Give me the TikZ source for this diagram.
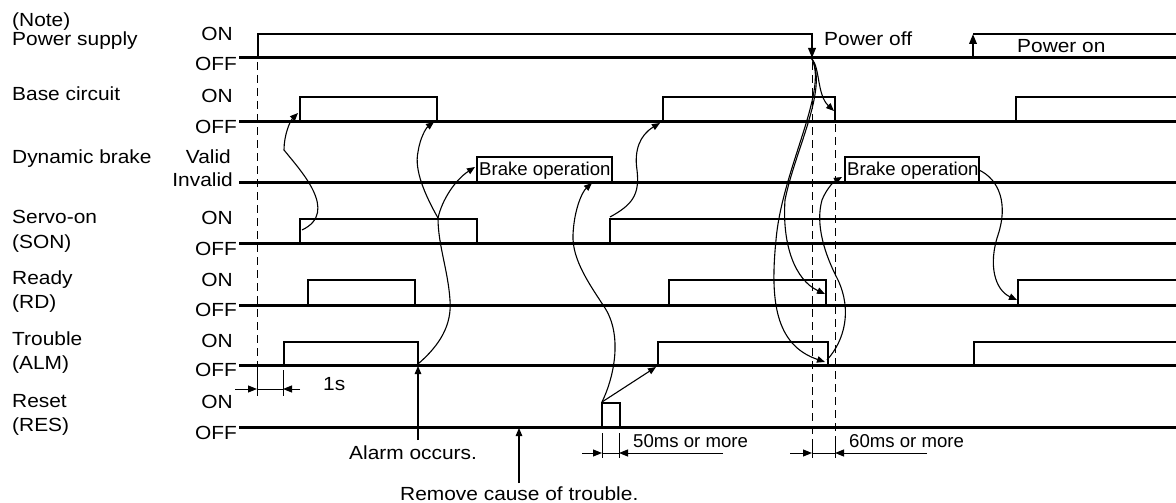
\documentclass[tikz,border=0pt]{standalone}
\usepackage{fontspec}
\setmainfont{Liberation Sans}[FakeStretch=1.1]
\newfontfamily\narrowfam{Liberation Sans}
\usetikzlibrary{arrows.meta}
\newcommand{\mainsz}{\fontsize{19}{22}\selectfont}
\newcommand{\smallsz}{\narrowfam\fontsize{18.6}{22}\selectfont}
\tikzset{
  baseline line/.style={line width=3pt},
  sig/.style={line width=2pt, line join=miter, line cap=butt},
  boxline/.style={line width=1.6pt, line join=miter},
  curv/.style={line width=1.1pt, -{Triangle[length=8pt,width=6.5pt]}},
  straightarr/.style={line width=1.1pt, -{Triangle[length=8pt,width=6.5pt]}},
  edgearr/.style={line width=2pt, -{Triangle[length=10pt,width=7.5pt]}},
  dsh/.style={line width=1pt, dash pattern=on 8pt off 5pt},
  dimline/.style={line width=1pt},
  dimarr/.style={line width=1pt, -{Triangle[length=9pt,width=7pt]}},
  lbl/.style={anchor=base west, inner sep=0pt, font=\mainsz},
  lvl/.style={anchor=base east, inner sep=0pt, font=\mainsz},
  txt/.style={anchor=base west, inner sep=0pt, font=\mainsz},
  smalltxt/.style={anchor=base west, inner sep=0pt, font=\smallsz},
}
\begin{document}
\begin{tikzpicture}[x=1pt,y=-1pt]
\useasboundingbox (0,0) rectangle (1176,503);

% ---------- left labels ----------
\node[lbl] (note) at (12,27) {(Note)};
\node[lbl] (lps) at (12,45.5) {Power supply};
\node[lbl] (lbc) at (12,100) {Base circuit};
\node[lbl] (ldb) at (12,163) {Dynamic brake};
\node[lbl] (lson1) at (12,223) {Servo-on};
\node[lbl] (lson2) at (12,248) {(SON)};
\node[lbl] (lrd1) at (12,284) {Ready};
\node[lbl] (lrd2) at (12,308) {(RD)};
\node[lbl] (lalm1) at (12,345) {Trouble};
\node[lbl] (lalm2) at (12,369) {(ALM)};
\node[lbl] (lres1) at (12,407) {Reset};
\node[lbl] (lres2) at (12,431) {(RES)};

% ---------- level labels ----------
\node[lvl] (on1) at (233,40.5) {ON};
\node[lvl] (off1) at (237,70.5) {OFF};
\node[lvl] (on2) at (233,102.7) {ON};
\node[lvl] (off2) at (237,133) {OFF};
\node[lvl] (valid) at (231,163) {Valid};
\node[lvl] (invalid) at (233,186) {Invalid};
\node[lvl] (on4) at (233,224) {ON};
\node[lvl] (off4) at (237,255) {OFF};
\node[lvl] (on5) at (233,286) {ON};
\node[lvl] (off5) at (237,316) {OFF};
\node[lvl] (on6) at (233,347) {ON};
\node[lvl] (off6) at (237,376) {OFF};
\node[lvl] (on7) at (233,408) {ON};
\node[lvl] (off7) at (237,439) {OFF};

% ---------- base lines ----------
\foreach \yy in {58,121,182,243,305,365,427}
  \draw[baseline line] (239,\yy) -- (1176,\yy);

% ---------- dashed guides ----------
\draw[dsh] (257,62) -- (257,365);
\draw[dsh] (812,62) -- (812,443);
\draw[dsh] (835,124) -- (835,443);

% ---------- power supply ----------
\draw[sig] (258,58) -- (258,34) -- (812,34);
\draw[edgearr] (812,33) -- (812,58);
\draw[edgearr] (973,58) -- (973,34);
\draw[sig] (973,34) -- (1176,34);
\node[txt] (poff) at (824,45.7) {Power off};
\node[txt] (pon) at (1017,52.7) {Power on};

% ---------- base circuit ----------
\draw[sig] (300,121) -- (300,97) -- (437,97) -- (437,121);
\draw[sig] (663,121) -- (663,97) -- (835,97) -- (835,121);
\draw[sig] (1016,121) -- (1016,97) -- (1176,97);

% ---------- dynamic brake ----------
\draw[boxline] (477,182) -- (477,157) -- (612,157) -- (612,182);
\node[smalltxt] (brk1) at (479,175) {Brake operation};
\draw[boxline] (845,182) -- (845,157) -- (979,157) -- (979,182);
\node[smalltxt] (brk2) at (847,175) {Brake operation};

% ---------- servo-on ----------
\draw[sig] (300,243) -- (300,219) -- (477,219) -- (477,243);
\draw[sig] (610,243) -- (610,219) -- (1176,219);

% ---------- ready ----------
\draw[sig] (308,305) -- (308,280) -- (415,280) -- (415,305);
\draw[sig] (669,305) -- (669,280) -- (826,280) -- (826,305);
\draw[sig] (1018,305) -- (1018,280) -- (1176,280);

% ---------- trouble ----------
\draw[sig] (284,365) -- (284,342) -- (418,342) -- (418,365);
\draw[sig] (658,365) -- (658,342) -- (828,342) -- (828,365);
\draw[sig] (974,365) -- (974,342) -- (1176,342);

% ---------- reset ----------
\draw[sig] (602,427) -- (602,403) -- (620,403) -- (620,427);

% ---------- key points ----------
\coordinate (son1) at (302,230);
\coordinate (bc1) at (298,113);
\coordinate (alm1) at (418,364);
\coordinate (jn) at (438,218);
\coordinate (bc2) at (434,122);
\coordinate (db1) at (475,167);
\coordinate (res) at (602,402);
\coordinate (db1e) at (592,183);
\coordinate (alm2) at (656,367);
\coordinate (son2) at (610,217);
\coordinate (bc3) at (660,123);
\coordinate (pof) at (812,59);
\coordinate (bc4) at (834,111);
\coordinate (rd2) at (825,294);
\coordinate (alm3) at (825,362);
\coordinate (alm3s) at (827,360);
\coordinate (db2) at (842,177);
\coordinate (db2e) at (979,170);
\coordinate (rd3) at (1017,300);

% ---------- causal curves ----------
\draw[curv] (son1) .. controls (340,212) and (300,170) .. (284,150)
   .. controls (284,135) and (290,121) .. (bc1);
\draw[curv] (alm1) .. controls (440,345) and (452,325) .. (450,300)
   .. controls (448,270) and (438,245) .. (jn)
   .. controls (425,195) and (414,170) .. (418,152)
   .. controls (420,138) and (426,128) .. (bc2);
\draw[curv] (jn) .. controls (442,200) and (455,180) .. (db1);
\draw[curv] (res) .. controls (615,375) and (622,335) .. (605,308)
   .. controls (590,285) and (572,260) .. (573,235)
   .. controls (574,210) and (582,192) .. (db1e);
\draw[straightarr] (res) -- (alm2);
\draw[curv] (son2) .. controls (632,205) and (640,195) .. (637,170)
   .. controls (634,150) and (640,135) .. (bc3);
\draw[curv] (pof) .. controls (820,68) and (817,95) .. (bc4);
\draw[curv] (pof) .. controls (828,90) and (795,150) .. (785,200)
   .. controls (782,245) and (795,280) .. (rd2);
\draw[curv] (pof) .. controls (828,92) and (782,170) .. (776,240)
   .. controls (770,300) and (775,345) .. (alm3);
\draw[curv] (alm3s) .. controls (845,340) and (852,310) .. (838,280)
   .. controls (825,255) and (815,225) .. (822,200)
   .. controls (826,190) and (833,182) .. (db2);
\draw[curv] (db2e) .. controls (1000,180) and (1008,205) .. (998,235)
   .. controls (988,265) and (995,290) .. (rd3);

% ---------- 1s dimension ----------
\draw[dimline] (257,365) -- (257,396);
\draw[dimline] (283,370) -- (283,396);
\coordinate (d1a) at (235,389);
\coordinate (d1b) at (257,389);
\coordinate (d1c) at (300,389);
\coordinate (d1d) at (283,389);
\draw[dimarr] (d1a) -- (d1b);
\draw[dimline] (d1b) -- (d1d);
\draw[dimarr] (d1c) -- (d1d);
\node[txt] (onesec) at (323,390) {1s};

% ---------- 50ms dimension ----------
\draw[dimline] (602,433) -- (602,458);
\draw[dimline] (619,433) -- (619,458);
\coordinate (d5a) at (582,453);
\coordinate (d5b) at (602,453);
\coordinate (d5c) at (723,453);
\coordinate (d5d) at (619,453);
\draw[dimarr] (d5a) -- (d5b);
\draw[dimline] (d5b) -- (d5d);
\draw[dimarr] (d5c) -- (d5d);
\node[smalltxt] (fifty) at (633,447) {50ms or more};

% ---------- 60ms dimension ----------
\draw[dimline] (812,443) -- (812,458);
\draw[dimline] (835,443) -- (835,458);
\coordinate (d6a) at (790,453);
\coordinate (d6b) at (812,453);
\coordinate (d6c) at (927,453);
\coordinate (d6d) at (835,453);
\draw[dimarr] (d6a) -- (d6b);
\draw[dimline] (d6b) -- (d6d);
\draw[dimarr] (d6c) -- (d6d);
\node[smalltxt] (sixty) at (849,447) {60ms or more};

% ---------- event labels ----------
\node[txt] (alarm) at (349,459) {Alarm occurs.};
\coordinate (alarmtail) at (418,440);
\coordinate (alarmtip) at (418,366);
\draw[straightarr] (alarmtail) -- (alarmtip);
\node[txt] (remove) at (400,500) {Remove cause of trouble.};
\coordinate (remtail) at (519,483);
\coordinate (remtip) at (519,428);
\draw[straightarr] (remtail) -- (remtip);
\end{tikzpicture}
\end{document}
